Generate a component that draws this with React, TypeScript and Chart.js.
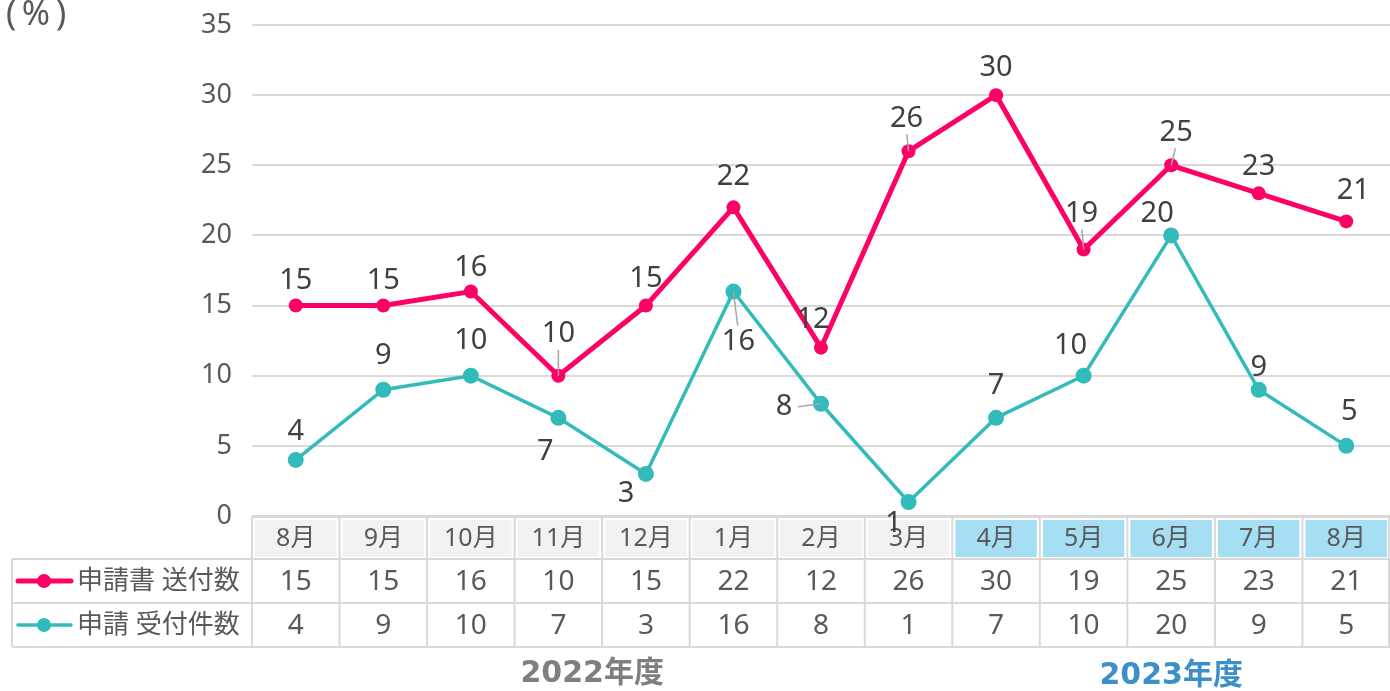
import React, { useEffect, useRef } from "react";
import { Chart, registerables } from "chart.js";

Chart.register(...registerables);

const months = ["8月", "9月", "10月", "11月", "12月", "1月", "2月", "3月", "4月", "5月", "6月", "7月", "8月"];
const fiscalYear = ["2022", "2022", "2022", "2022", "2022", "2022", "2022", "2022", "2023", "2023", "2023", "2023", "2023"];
const sentLabel = "申請書 送付数";
const sentValues = [15, 15, 16, 10, 15, 22, 12, 26, 30, 19, 25, 23, 21];
const receivedLabel = "申請 受付件数";
const receivedValues = [4, 9, 10, 7, 3, 16, 8, 1, 7, 10, 20, 9, 5];
const yTicks = [0, 5, 10, 15, 20, 25, 30, 35];
const yearLabels = ["2022年度", "2023年度"];

// label placement style (offset from point, px) and leader flag
const sentLabelOffsets: [number, number, boolean][] = [
  [0, -25, false], [0, -25, false], [0, -24, false], [0, -42, true], [0, -27, false],
  [0, -31, false], [-8, -28, false], [-2, -33, true], [0, -27, false], [-2, -36, true],
  [5, -33, true], [0, -27, false], [7, -31, false],
];
const receivedLabelOffsets: [number, number, boolean][] = [
  [0, -28, false], [0, -34, false], [0, -35, false], [-13, 34, false], [-20, 20, false],
  [5, 50, true], [-37, 3, true], [-15, 22, false], [0, -32, false], [-13, -30, false],
  [-14, -22, false], [0, -22, false], [3, -34, false],
];

const PINK = "#ff0066";
const TEAL = "#33bbbb";
const FONT = '"Noto Sans", "Noto Sans CJK JP", sans-serif';

function drawPointLabels(chart: any) {
  const ctx = chart.ctx;
  const offsets = [sentLabelOffsets, receivedLabelOffsets];
  ctx.save();
  ctx.font = `29px ${FONT}`;
  ctx.textAlign = "center";
  ctx.textBaseline = "middle";
  chart.data.datasets.forEach((ds: any, di: number) => {
    const meta = chart.getDatasetMeta(di);
    meta.data.forEach((pt: any, i: number) => {
      const [dx, dy, leader] = offsets[di][i];
      const x = pt.x + dx;
      const y = pt.y + dy;
      if (leader) {
        ctx.strokeStyle = "#a6a6a6";
        ctx.lineWidth = 1.5;
        ctx.beginPath();
        let sx = x, sy = y;
        if (Math.abs(dy) > Math.abs(dx)) { sy = y + (dy < 0 ? 16 : -16); sx = x - dx * 0.15; }
        else { sx = x + (dx < 0 ? 14 : -14); }
        ctx.moveTo(sx, sy);
        ctx.lineTo(pt.x, pt.y);
        ctx.stroke();
      }
      ctx.fillStyle = "#404040";
      ctx.fillText(String(ds.data[i]), x, y);
    });
  });
  ctx.restore();
}

const tablePlugin = {
  id: "dataTable",
  afterDraw(chart: any) {
    const ctx = chart.ctx;
    const xs = chart.scales.x;
    const area = chart.chartArea;
    const n = months.length;
    const colW = (area.right - area.left) / n;
    const top = area.bottom + 1;
    const rowH = [42, 44, 44];
    const rows = [top, top + rowH[0], top + rowH[0] + rowH[1], top + rowH[0] + rowH[1] + rowH[2]];
    const leftX = 12;
    ctx.save();
    // header fills
    for (let i = 0; i < n; i++) {
      const cx = xs.getPixelForValue(i);
      const l = cx - colW / 2, r = cx + colW / 2;
      ctx.fillStyle = fiscalYear[i] === "2023" ? "#a6dff3" : "#f2f2f2";
      ctx.fillRect(l + 3, rows[0] + 3, r - l - 6, rowH[0] - 5);
    }
    // borders
    ctx.strokeStyle = "#d9d9d9";
    ctx.lineWidth = 2;
    ctx.beginPath();
    ctx.moveTo(area.left, rows[0]);
    ctx.lineTo(area.right, rows[0]);
    for (let r = 1; r < 4; r++) {
      ctx.moveTo(leftX, rows[r]);
      ctx.lineTo(area.right, rows[r]);
    }
    ctx.moveTo(leftX, rows[1]);
    ctx.lineTo(leftX, rows[3]);
    for (let i = 0; i <= n; i++) {
      const x = Math.min(area.left + i * colW, area.right - 1);
      ctx.moveTo(x, rows[0]);
      ctx.lineTo(x, rows[3]);
    }
    ctx.stroke();
    // header text
    ctx.textAlign = "center";
    ctx.textBaseline = "middle";
    ctx.fillStyle = "#595959";
    ctx.font = `25px ${FONT}`;
    for (let i = 0; i < n; i++) {
      ctx.fillText(months[i], xs.getPixelForValue(i), rows[0] + rowH[0] / 2 + 1);
    }
    // values
    ctx.font = `28px ${FONT}`;
    const series = [sentValues, receivedValues];
    for (let r = 0; r < 2; r++) {
      for (let i = 0; i < n; i++) {
        ctx.fillText(String(series[r][i]), xs.getPixelForValue(i), rows[r + 1] + rowH[r + 1] / 2 + 1);
      }
    }
    // legend keys
    const names = [sentLabel, receivedLabel];
    const colors = [PINK, TEAL];
    const widths = [5, 3.5];
    for (let r = 0; r < 2; r++) {
      const cy = rows[r + 1] + rowH[r + 1] / 2;
      ctx.strokeStyle = colors[r];
      ctx.lineWidth = widths[r];
      ctx.lineCap = "round";
      ctx.beginPath();
      ctx.moveTo(18, cy);
      ctx.lineTo(71, cy);
      ctx.stroke();
      ctx.fillStyle = colors[r];
      ctx.beginPath();
      ctx.arc(44, cy, 7, 0, Math.PI * 2);
      ctx.fill();
      ctx.fillStyle = "#595959";
      ctx.textAlign = "left";
      ctx.font = `26px ${FONT}`;
      ctx.fillText(names[r], 77, cy + 1);
      ctx.textAlign = "center";
    }
    // year labels
    ctx.font = `bold 30px "DejaVu Sans", "Noto Sans CJK JP", sans-serif`;
    const midOf = (yr: string) => {
      const idx = fiscalYear.map((f, i) => (f === yr ? i : -1)).filter((i) => i >= 0);
      return (xs.getPixelForValue(idx[0]) + xs.getPixelForValue(idx[idx.length - 1])) / 2;
    };
    ctx.fillStyle = "#7f7f7f";
    ctx.fillText(yearLabels[0], midOf("2022") - 10, 674);
    ctx.fillStyle = "#3d8fc9";
    ctx.fillText(yearLabels[1], midOf("2023"), 676);
    // (%) unit
    ctx.fillStyle = "#595959";
    ctx.font = `34px ${FONT}`;
    ctx.fillText("(", 11, 15);
    ctx.fillText("%", 36, 15);
    ctx.fillText(")", 61, 15);
    ctx.restore();
    drawPointLabels(chart);
  },
};

export default function App() {
  const ref = useRef<HTMLCanvasElement | null>(null);
  useEffect(() => {
    document.body.style.margin = "0";
    const chart = new Chart(ref.current as HTMLCanvasElement, {
      type: "line",
      data: {
        labels: months,
        datasets: [
          {
            label: sentLabel,
            data: sentValues,
            borderColor: PINK,
            backgroundColor: PINK,
            borderWidth: 5,
            pointRadius: 7,
            pointBackgroundColor: PINK,
            pointBorderWidth: 0,
            tension: 0,
          },
          {
            label: receivedLabel,
            data: receivedValues,
            borderColor: TEAL,
            backgroundColor: TEAL,
            borderWidth: 3.5,
            pointRadius: 8,
            pointBackgroundColor: TEAL,
            pointBorderWidth: 0,
            tension: 0,
          },
        ],
      },
      options: {
        responsive: false,
        animation: false,
        layout: { autoPadding: false, padding: { left: 0, right: 0, top: 25, bottom: 175 } },
        plugins: { legend: { display: false }, tooltip: { enabled: false } },
        scales: {
          x: { type: "category", offset: true, display: false },
          y: {
            min: 0,
            max: 35,
            afterBuildTicks: (scale: any) => {
              scale.ticks = yTicks.map((v) => ({ value: v }));
            },
            afterFit: (scale: any) => {
              scale.width = 252;
              scale.paddingTop = 0;
              scale.paddingBottom = 0;
            },
            border: { display: false },
            grid: { color: "#d9d9d9", lineWidth: 2, drawTicks: false },
            ticks: {
              color: "#595959",
              padding: 20,
              font: { family: FONT, size: 27 },
            },
          },
        },
      },
      plugins: [tablePlugin],
    } as any);
    return () => chart.destroy();
  }, []);
  return <canvas ref={ref} width={1390} height={691} style={{ display: "block" }} />;
}
